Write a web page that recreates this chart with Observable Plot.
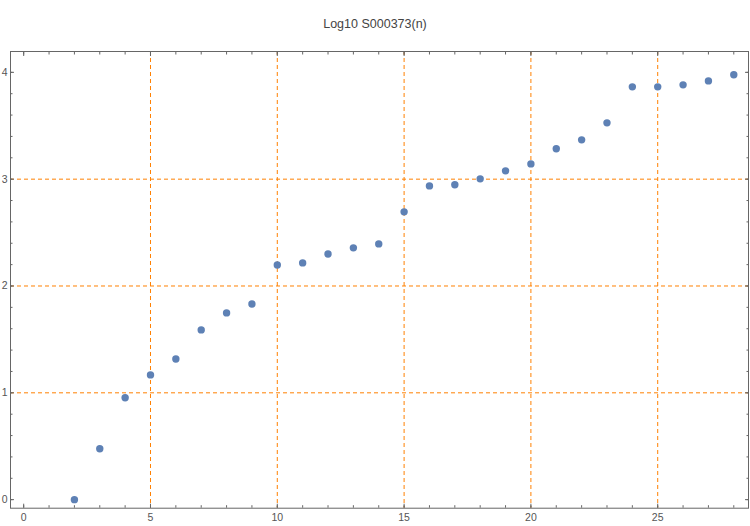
<!DOCTYPE html>
<html>
<head>
<meta charset="utf-8">
<script src="https://cdn.jsdelivr.net/npm/d3@7"></script>
<script src="https://cdn.jsdelivr.net/npm/@observablehq/plot@0.6"></script>
<style>
  html, body { margin: 0; padding: 0; background: #fff; }
  #title { height: 40px; box-sizing: border-box; padding-top: 16px; text-align: center;
           font-family: "Liberation Sans", Arial, sans-serif; font-size: 12.5px; line-height: 16px; color: #444; }
</style>
</head>
<body>
<div id="title">Log10 S000373(n)</div>
<div id="chart"></div>
<script>
const n = [2,3,4,5,6,7,8,9,10,11,12,13,14,15,16,17,18,19,20,21,22,23,24,25,26,27,28];
const logValues = [0,0.477,0.954,1.168,1.317,1.589,1.748,1.832,2.197,2.216,2.300,2.357,2.394,2.694,2.937,2.947,3.003,3.078,3.143,3.284,3.368,3.527,3.864,3.864,3.883,3.920,3.977];
const xMajorTicks = [0,5,10,15,20,25];
const xMinorTicks = [0,1,2,3,4,5,6,7,8,9,10,11,12,13,14,15,16,17,18,19,20,21,22,23,24,25,26,27,28];
const yMajorTicks = [0,1,2,3,4];
const yMinorTicks = [0,0.2,0.4,0.6,0.8,1,1.2,1.4,1.6,1.8,2,2.2,2.4,2.6,2.8,3,3.2,3.4,3.6,3.8,4];
const xGrid = [5,10,15,20,25];
const yGrid = [1,2,3];

const data = n.map((v, i) => ({n: v, y: logValues[i]}));
const tickColor = "#666";
const blank = () => "";
const intFmt = d => String(d);

const chart = Plot.plot({
  width: 750,
  height: 486,
  marginTop: 11,
  marginBottom: 18.3,
  marginLeft: 10,
  marginRight: 2,
  x: {domain: [-0.52, 28.58]},
  y: {domain: [-0.08, 4.195]},
  style: {fontFamily: "Liberation Sans, Arial, sans-serif", fontSize: "10.5px", color: "#555", background: "#fff"},
  marks: [
    Plot.gridX(xGrid, {stroke: "#FF8000", strokeOpacity: 1, strokeWidth: 1, strokeDasharray: "4,3"}),
    Plot.gridY(yGrid, {stroke: "#FF8000", strokeOpacity: 1, strokeWidth: 1, strokeDasharray: "4,3"}),
    Plot.axisX(xMinorTicks, {anchor: "bottom", tickSize: -2.5, tickFormat: blank, stroke: tickColor, label: null}),
    Plot.axisX(xMajorTicks, {anchor: "bottom", tickSize: -4, tickFormat: blank, stroke: tickColor, label: null}),
    Plot.axisX(xMinorTicks, {anchor: "top", tickSize: -2.5, tickFormat: blank, stroke: tickColor, label: null}),
    Plot.axisX(xMajorTicks, {anchor: "top", tickSize: -4, tickFormat: blank, stroke: tickColor, label: null}),
    Plot.axisX(xMajorTicks, {anchor: "bottom", tickSize: 0, tickPadding: 5, tickFormat: intFmt, label: null, fill: "#555"}),
    Plot.axisY(yMinorTicks, {anchor: "left", tickSize: -2.5, tickFormat: blank, stroke: tickColor, label: null}),
    Plot.axisY(yMajorTicks, {anchor: "left", tickSize: -4, tickFormat: blank, stroke: tickColor, label: null}),
    Plot.axisY(yMinorTicks, {anchor: "right", tickSize: -2.5, tickFormat: blank, stroke: tickColor, label: null}),
    Plot.axisY(yMajorTicks, {anchor: "right", tickSize: -4, tickFormat: blank, stroke: tickColor, label: null}),
    Plot.axisY(yMajorTicks, {anchor: "left", tickSize: 0, tickPadding: 3, tickFormat: intFmt, label: null, fill: "#555"}),
    Plot.frame({stroke: tickColor, strokeWidth: 1}),
    Plot.dot(data, {x: "n", y: "y", r: 3.7, fill: "#5E81B5", stroke: "none"})
  ]
});
document.getElementById("chart").appendChild(chart);
</script>
</body>
</html>
